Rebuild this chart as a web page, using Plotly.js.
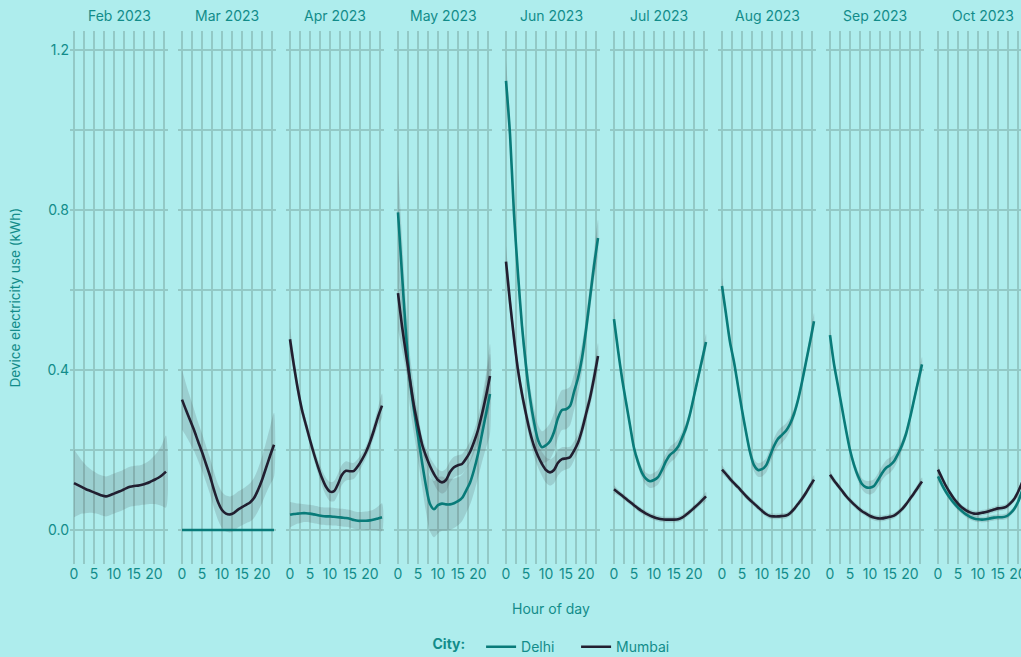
<!DOCTYPE html>
<html>
<head>
<meta charset="utf-8">
<script src="https://cdn.plot.ly/plotly-3.0.1.min.js"></script>
<style>
  html, body { margin: 0; padding: 0; background: #aeeded; overflow: hidden; }
  #chart { width: 1060px; height: 657px; }
</style>
</head>
<body>
<div id="chart"></div>
<script>
// Hourly mean device electricity use (kWh) per month, with the half-width of the uncertainty band.
const hours = [0,1,2,3,4,5,6,7,8,9,10,11,12,13,14,15,16,17,18,19,20,21,22,23];
const months = ['Feb 2023','Mar 2023','Apr 2023','May 2023','Jun 2023','Jul 2023','Aug 2023','Sep 2023','Oct 2023'];
// Grid positions and the labels shown at them (blank = grid line only)
const xGrid = [0, 2.5, 5, 7.5, 10, 12.5, 15, 17.5, 20, 22.5];
const xLabels = ['0', '', '5', '', '10', '', '15', '', '20', ''];
const yGrid = [0, 0.2, 0.4, 0.6, 0.8, 1.0, 1.2];
const yLabels = ['0.0', '', '0.4', '', '0.8', '', '1.2'];

// Mumbai
const mumbaiFeb = [0.117,0.112,0.107,0.102,0.098,0.094,0.090,0.086,0.084,0.087,0.091,0.095,0.099,0.104,0.108,0.110,0.111,0.113,0.116,0.120,0.125,0.130,0.137,0.146];
const mumbaiFebBand = [0.085,0.075,0.066,0.060,0.055,0.052,0.050,0.050,0.050,0.050,0.050,0.050,0.050,0.050,0.050,0.050,0.050,0.050,0.052,0.055,0.060,0.067,0.077,0.090];
const mumbaiMar = [0.326,0.300,0.275,0.250,0.222,0.195,0.165,0.135,0.100,0.070,0.050,0.041,0.039,0.043,0.051,0.057,0.063,0.069,0.080,0.100,0.125,0.155,0.185,0.213];
const mumbaiMarBand = [0.075,0.065,0.058,0.052,0.048,0.046,0.045,0.045,0.045,0.045,0.045,0.045,0.045,0.045,0.045,0.045,0.046,0.048,0.050,0.053,0.058,0.064,0.072,0.080];
const mumbaiApr = [0.477,0.410,0.350,0.300,0.262,0.225,0.190,0.158,0.130,0.108,0.096,0.097,0.115,0.138,0.148,0.147,0.148,0.160,0.176,0.195,0.220,0.250,0.283,0.311];
const mumbaiAprBand = [0.030,0.022,0.018,0.015,0.014,0.014,0.015,0.017,0.020,0.022,0.024,0.025,0.026,0.025,0.024,0.022,0.020,0.018,0.016,0.015,0.016,0.018,0.022,0.030];
const mumbaiMay = [0.592,0.510,0.440,0.375,0.310,0.260,0.215,0.185,0.160,0.140,0.125,0.119,0.125,0.145,0.157,0.162,0.165,0.178,0.195,0.220,0.250,0.290,0.335,0.385];
const mumbaiMayBand = [0.090,0.060,0.040,0.030,0.025,0.022,0.020,0.020,0.022,0.025,0.027,0.028,0.028,0.027,0.026,0.025,0.025,0.025,0.026,0.028,0.032,0.040,0.055,0.080];
const mumbaiJun = [0.671,0.570,0.480,0.400,0.340,0.290,0.245,0.210,0.185,0.165,0.150,0.144,0.150,0.168,0.177,0.179,0.182,0.198,0.218,0.250,0.290,0.330,0.380,0.435];
const mumbaiJunBand = [0.040,0.030,0.025,0.022,0.020,0.020,0.022,0.025,0.028,0.030,0.032,0.033,0.033,0.032,0.030,0.028,0.026,0.024,0.022,0.020,0.020,0.022,0.026,0.032];
const mumbaiJul = [0.102,0.094,0.086,0.078,0.070,0.062,0.054,0.047,0.041,0.036,0.032,0.029,0.027,0.026,0.026,0.026,0.027,0.031,0.038,0.046,0.055,0.064,0.074,0.084];
const mumbaiJulBand = [0.010,0.008,0.007,0.007,0.007,0.007,0.007,0.007,0.007,0.007,0.007,0.007,0.007,0.007,0.007,0.007,0.007,0.007,0.007,0.007,0.007,0.008,0.009,0.011];
const mumbaiAug = [0.151,0.140,0.128,0.117,0.107,0.096,0.085,0.075,0.066,0.057,0.048,0.040,0.035,0.034,0.034,0.035,0.036,0.042,0.052,0.065,0.078,0.093,0.110,0.126];
const mumbaiAugBand = [0.011,0.009,0.008,0.007,0.007,0.007,0.007,0.007,0.007,0.007,0.007,0.007,0.007,0.007,0.007,0.007,0.007,0.007,0.007,0.007,0.008,0.008,0.009,0.011];
const mumbaiSep = [0.138,0.124,0.111,0.098,0.085,0.074,0.064,0.055,0.047,0.041,0.035,0.031,0.029,0.029,0.031,0.033,0.036,0.043,0.052,0.064,0.078,0.092,0.107,0.121];
const mumbaiSepBand = [0.010,0.008,0.007,0.007,0.007,0.007,0.007,0.007,0.007,0.007,0.007,0.007,0.007,0.007,0.007,0.007,0.007,0.007,0.007,0.007,0.007,0.008,0.009,0.010];
const mumbaiOct = [0.151,0.130,0.110,0.093,0.078,0.066,0.056,0.049,0.044,0.041,0.041,0.043,0.045,0.048,0.051,0.054,0.055,0.058,0.066,0.077,0.095,0.118,0.145,0.175];
const mumbaiOctBand = [0.010,0.008,0.007,0.007,0.007,0.007,0.007,0.007,0.007,0.007,0.007,0.007,0.007,0.007,0.007,0.007,0.007,0.007,0.007,0.007,0.008,0.008,0.009,0.011];

// Delhi (no readings in February)
const delhiMar = [0,0,0,0,0,0,0,0,0,0,0,0,0,0,0,0,0,0,0,0,0,0,0,0];
const delhiMarBand = [0,0,0,0,0,0,0,0,0,0,0,0,0,0,0,0,0,0,0,0,0,0,0,0];
const delhiApr = [0.038,0.040,0.041,0.042,0.042,0.041,0.039,0.037,0.035,0.034,0.034,0.033,0.032,0.031,0.030,0.028,0.025,0.023,0.023,0.023,0.024,0.026,0.029,0.032];
const delhiAprBand = [0.032,0.028,0.025,0.023,0.022,0.022,0.022,0.022,0.022,0.022,0.022,0.022,0.022,0.022,0.022,0.022,0.022,0.022,0.022,0.023,0.024,0.026,0.030,0.035];
const delhiMay = [0.794,0.640,0.490,0.372,0.300,0.235,0.170,0.110,0.065,0.052,0.062,0.066,0.064,0.064,0.067,0.072,0.080,0.098,0.118,0.150,0.190,0.240,0.290,0.340];
const delhiMayBand = [0.120,0.090,0.075,0.065,0.060,0.058,0.060,0.065,0.068,0.070,0.070,0.068,0.066,0.064,0.062,0.060,0.058,0.056,0.055,0.056,0.060,0.070,0.085,0.100];
const delhiJun = [1.123,0.990,0.790,0.640,0.510,0.410,0.330,0.270,0.225,0.207,0.212,0.222,0.245,0.280,0.300,0.302,0.310,0.345,0.380,0.430,0.500,0.580,0.660,0.730];
const delhiJunBand = [0.050,0.035,0.030,0.028,0.028,0.030,0.032,0.035,0.038,0.040,0.042,0.045,0.048,0.050,0.050,0.050,0.048,0.045,0.040,0.035,0.032,0.032,0.035,0.045];
const delhiJul = [0.527,0.450,0.380,0.320,0.262,0.205,0.170,0.143,0.128,0.122,0.125,0.132,0.150,0.172,0.188,0.196,0.208,0.230,0.255,0.290,0.335,0.380,0.425,0.470];
const delhiJulBand = [0.020,0.014,0.012,0.011,0.011,0.011,0.012,0.013,0.015,0.017,0.018,0.018,0.018,0.019,0.020,0.020,0.018,0.016,0.014,0.012,0.012,0.013,0.015,0.020];
const delhiAug = [0.610,0.540,0.470,0.420,0.360,0.300,0.245,0.195,0.162,0.150,0.152,0.161,0.185,0.210,0.228,0.238,0.248,0.265,0.290,0.325,0.370,0.420,0.470,0.522];
const delhiAugBand = [0.020,0.014,0.012,0.011,0.011,0.011,0.012,0.013,0.015,0.017,0.018,0.018,0.018,0.019,0.020,0.020,0.018,0.016,0.014,0.012,0.012,0.013,0.015,0.020];
const delhiSep = [0.487,0.415,0.360,0.305,0.250,0.200,0.163,0.135,0.115,0.107,0.106,0.110,0.125,0.142,0.155,0.162,0.172,0.190,0.212,0.240,0.280,0.325,0.370,0.414];
const delhiSepBand = [0.018,0.013,0.011,0.010,0.010,0.010,0.011,0.012,0.014,0.016,0.017,0.017,0.017,0.018,0.019,0.019,0.017,0.015,0.013,0.011,0.011,0.012,0.014,0.018];
const delhiOct = [0.134,0.113,0.095,0.080,0.067,0.056,0.047,0.039,0.033,0.029,0.027,0.026,0.027,0.029,0.031,0.032,0.032,0.034,0.041,0.052,0.070,0.097,0.125,0.155];
const delhiOctBand = [0.010,0.008,0.007,0.007,0.007,0.007,0.007,0.007,0.007,0.007,0.007,0.007,0.007,0.007,0.007,0.007,0.007,0.007,0.007,0.007,0.008,0.008,0.009,0.011];

const cities = ['Delhi', 'Mumbai'];
const cityColors = { Delhi: '#097b79', Mumbai: '#221f30' };

// [monthIndex, city, values, band]
const series = [
  [1, 'Delhi', delhiMar, delhiMarBand],
  [2, 'Delhi', delhiApr, delhiAprBand],
  [3, 'Delhi', delhiMay, delhiMayBand],
  [4, 'Delhi', delhiJun, delhiJunBand],
  [5, 'Delhi', delhiJul, delhiJulBand],
  [6, 'Delhi', delhiAug, delhiAugBand],
  [7, 'Delhi', delhiSep, delhiSepBand],
  [8, 'Delhi', delhiOct, delhiOctBand],
  [0, 'Mumbai', mumbaiFeb, mumbaiFebBand],
  [1, 'Mumbai', mumbaiMar, mumbaiMarBand],
  [2, 'Mumbai', mumbaiApr, mumbaiAprBand],
  [3, 'Mumbai', mumbaiMay, mumbaiMayBand],
  [4, 'Mumbai', mumbaiJun, mumbaiJunBand],
  [5, 'Mumbai', mumbaiJul, mumbaiJulBand],
  [6, 'Mumbai', mumbaiAug, mumbaiAugBand],
  [7, 'Mumbai', mumbaiSep, mumbaiSepBand],
  [8, 'Mumbai', mumbaiOct, mumbaiOctBand]
];

const BG = '#aeeded';
const GRID = '#93c9c6';
const TEXT = '#128c8a';
const FONT = 'Inter, "Noto Sans", sans-serif';

const axisId = i => (i === 0 ? '' : String(i + 1));

// Bands first, lines on top
const bandTraces = [];
const lineTraces = [];
const legendShown = {};
series.forEach(([m, city, vals, band]) => {
  const id = axisId(m);
  const upper = vals.map((v, k) => v + band[k]);
  const lower = vals.map((v, k) => v - band[k]);
  bandTraces.push({
    type: 'scatter', mode: 'lines',
    x: hours.concat(hours.slice().reverse()),
    y: upper.concat(lower.slice().reverse()),
    xaxis: 'x' + id, yaxis: 'y' + id,
    fill: 'toself', fillcolor: 'rgba(70,70,80,0.18)',
    line: { width: 0, shape: 'spline', smoothing: 0.8 },
    hoverinfo: 'skip', showlegend: false
  });
  lineTraces.push({
    type: 'scatter', mode: 'lines',
    x: hours, y: vals,
    xaxis: 'x' + id, yaxis: 'y' + id,
    name: city, legendgroup: city,
    legendrank: cities.indexOf(city) + 1,
    showlegend: !legendShown[city],
    line: { color: cityColors[city], width: 2.6, shape: 'spline', smoothing: 0.8 }
  });
  legendShown[city] = true;
});

// Panel geometry within the plotting area (pixel-aligned: 108px pitch, 98px panels, 4px per hour)
const plotW = 962;
const pitch = 108;
const panelW = 98;

const layout = {
  width: 1060, height: 657,
  margin: { l: 70, r: 28, t: 31, b: 93, autoexpand: false },
  paper_bgcolor: BG, plot_bgcolor: BG,
  font: { family: FONT, color: TEXT, size: 14 },
  showlegend: true,
  legend: {
    orientation: 'h', x: 0.5, xanchor: 'center', y: -0.156, yanchor: 'middle',
    title: { text: '<b>City:</b>  ', side: 'left', font: { size: 14, color: TEXT } },
    font: { size: 14, color: TEXT }, bgcolor: 'rgba(0,0,0,0)',
    traceorder: 'normal', itemwidth: 30, entrywidth: 50, entrywidthmode: 'pixels'
  },
  annotations: [],
  hovermode: false
};

months.forEach((label, i) => {
  const id = axisId(i);
  const left = (i * pitch) / plotW;
  const right = (i * pitch + panelW) / plotW;
  layout['xaxis' + id] = {
    domain: [left, right], range: [-1, 23.5], anchor: 'y' + id,
    tickmode: 'array', tickvals: xGrid, ticktext: xLabels,
    tickangle: 0, ticks: '', showline: false, zeroline: false,
    showgrid: true, gridcolor: GRID, gridwidth: 2,
    tickfont: { size: 14, color: TEXT }, fixedrange: true, automargin: false
  };
  layout['yaxis' + id] = {
    domain: [0, 1], range: [-0.085, 1.2475], anchor: 'x' + id,
    tickmode: 'array', tickvals: yGrid, ticktext: yLabels,
    showticklabels: i === 0, ticks: '', showline: false, zeroline: false,
    showgrid: true, gridcolor: GRID, gridwidth: 2,
    tickfont: { size: 14, color: TEXT }, fixedrange: true, automargin: false
  };
  layout.annotations.push({
    text: label, xref: 'paper', yref: 'paper',
    x: (left + right) / 2, y: 1, xanchor: 'center', yanchor: 'bottom', yshift: 5,
    showarrow: false, font: { size: 14, color: TEXT }
  });
});

// Shared axis titles
layout.annotations.push({
  text: 'Hour of day', xref: 'paper', yref: 'paper',
  x: 0.5, y: -0.0826, xanchor: 'center', yanchor: 'middle',
  showarrow: false, font: { size: 14, color: TEXT }
});
layout.annotations.push({
  text: 'Device electricity use (kWh)', xref: 'paper', yref: 'paper',
  x: -0.0572, y: 0.5, xanchor: 'center', yanchor: 'middle', textangle: -90,
  showarrow: false, font: { size: 13.5, color: TEXT }
});

Plotly.newPlot('chart', bandTraces.concat(lineTraces), layout, { displayModeBar: false, staticPlot: true });
</script>
</body>
</html>
